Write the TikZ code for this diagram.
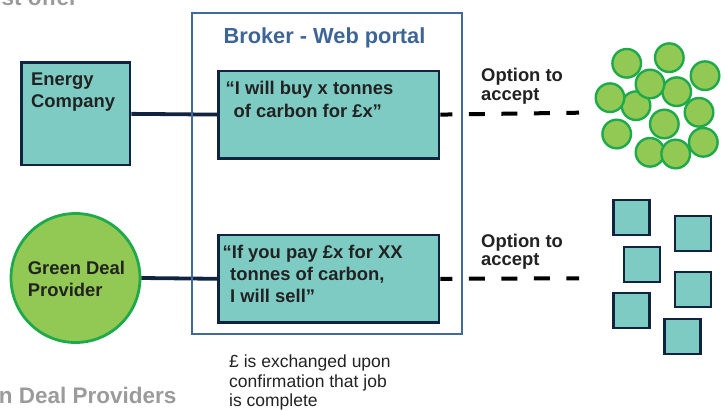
\documentclass[tikz,border=0pt]{standalone}
\usepackage{fontspec}
\setmainfont{Liberation Sans}

\definecolor{tealfill}{HTML}{7ECBC4}
\definecolor{navyline}{HTML}{10243F}
\definecolor{brokerblue}{HTML}{41699A}
\definecolor{titleblue}{HTML}{3D6596}
\definecolor{leaf}{HTML}{92C954}
\definecolor{leafline}{HTML}{1EAA4B}
\definecolor{inkdark}{HTML}{222222}
\definecolor{fadegray}{HTML}{9B9B9B}

\begin{document}
\begin{tikzpicture}[x=1pt, y=-1pt,
  panel/.style={draw=navyline, line width=2.6pt, fill=tealfill, inner sep=0pt,
    anchor=north west, shape=rectangle},
  portal/.style={inner sep=0pt, anchor=north west, shape=rectangle},
  portalframe/.style={draw=brokerblue, line width=2pt},
  provider/.style={draw=leafline, line width=2.8pt, fill=leaf, shape=circle,
    inner sep=0pt},
  boldtext/.style={font={\fontsize{18.4}{#1}\selectfont\bfseries}, text=inkdark,
    align=left, inner sep=0pt, anchor=north west},
  plaintext/.style={font={\fontsize{17.5}{19.7}\selectfont}, text=inkdark,
    align=left, inner sep=0pt, anchor=north west},
  fadedtext/.style={font={\fontsize{22.5}{25}\selectfont\bfseries}, text=fadegray,
    inner sep=0pt, anchor=base east},
  link/.style={draw=navyline, line width=3.8pt},
  offerline/.style={draw=black, line width=4pt, dash pattern=on 16pt off 16.5pt,
    dash phase=4pt},
  token/.style={draw=leafline, line width=2.4pt, fill=leaf},
  tile/.style={draw=navyline, line width=2.4pt, fill=tealfill}
]
\useasboundingbox (0,0) rectangle (725,410);
\clip (0,0) rectangle (725,410);

% headings cut by the page edge
\node[fadedtext] (offerhead) at (78,5.7) {est offer};
\node[fadedtext] (gdphead) at (176.7,403.3) {n Deal Providers};

% broker web portal area (frame is stroked later, over the connectors)
\node[portal, minimum width=270pt, minimum height=320pt] (broker) at (192,13.3) {};
\node[font={\fontsize{21.8}{24}\selectfont\bfseries}, text=titleblue, inner sep=0pt,
  anchor=base] (brokertitle) at (324.5,43) {Broker - Web portal};

% parties
\node[panel, minimum width=108.5pt, minimum height=102.5pt] (energy) at (20.3,61.3) {};
\node[boldtext=21.7] (energytext) at (31,73) {Energy\\Company};

\node[provider, minimum size=129pt] (gdp) at (75.5,278) {};
\node[boldtext=21.7] (gdptext) at (27.7,261) {Green Deal\\Provider};

% offers on the portal
\node[panel, minimum width=220.4pt, minimum height=87.4pt] (buyoffer) at (217.3,69.6) {};
\node[boldtext=23] (buytext) at (225.5,81)
  {“I will buy x tonnes\\\hspace*{8pt}of carbon for £x”};

\node[panel, minimum width=220.4pt, minimum height=87.8pt] (selloffer) at (217.3,233.6) {};
\node[boldtext=22] (selltext) at (222.5,245.3)
  {“If you pay £x for XX\\\hspace*{7.5pt}tonnes of carbon,\\\hspace*{7.5pt}I will sell”};

% connectors
\draw[link] (energy.east) -- (buyoffer.west);
\draw[link] (gdp.east) -- (selloffer.west);

\coordinate (buyend) at (579,112.7);
\coordinate (sellend) at (579,278.3);
\draw[offerline] (buyoffer.east) -- (buyend);
\draw[offerline] (selloffer.east) -- (sellend);

% portal frame on top of the lines crossing it
\draw[portalframe] (broker.north west) rectangle (broker.south east);

\node[boldtext=18.7] (buyoption) at (481,68) {Option to\\accept};
\node[boldtext=18.7] (selloption) at (481,233.7) {Option to\\accept};

\node[plaintext] (payment) at (229,354.7)
  {£ is exchanged upon\\confirmation that job\\is complete};

% cluster of buyers (circles)
\foreach \cx/\cy in {636/105.7, 676.7/91.7, 626.7/63.3, 669.3/57.7, 705/75.7,
  610/97.7, 650/84, 699/112.3, 616.7/134, 664.3/124, 703.3/142.3,
  650/152.3, 675.7/154}
  \draw[token] (\cx,\cy) circle[radius=14.3pt];

% cluster of sellers (squares)
\foreach \sx/\sy in {612.3/199, 673.7/214.7, 622.7/245.7, 673.7/271,
  612.3/292, 663.3/318}
  \draw[tile] (\sx+1.2,\sy+1.2) rectangle ++(36,35);
\end{tikzpicture}
\end{document}
